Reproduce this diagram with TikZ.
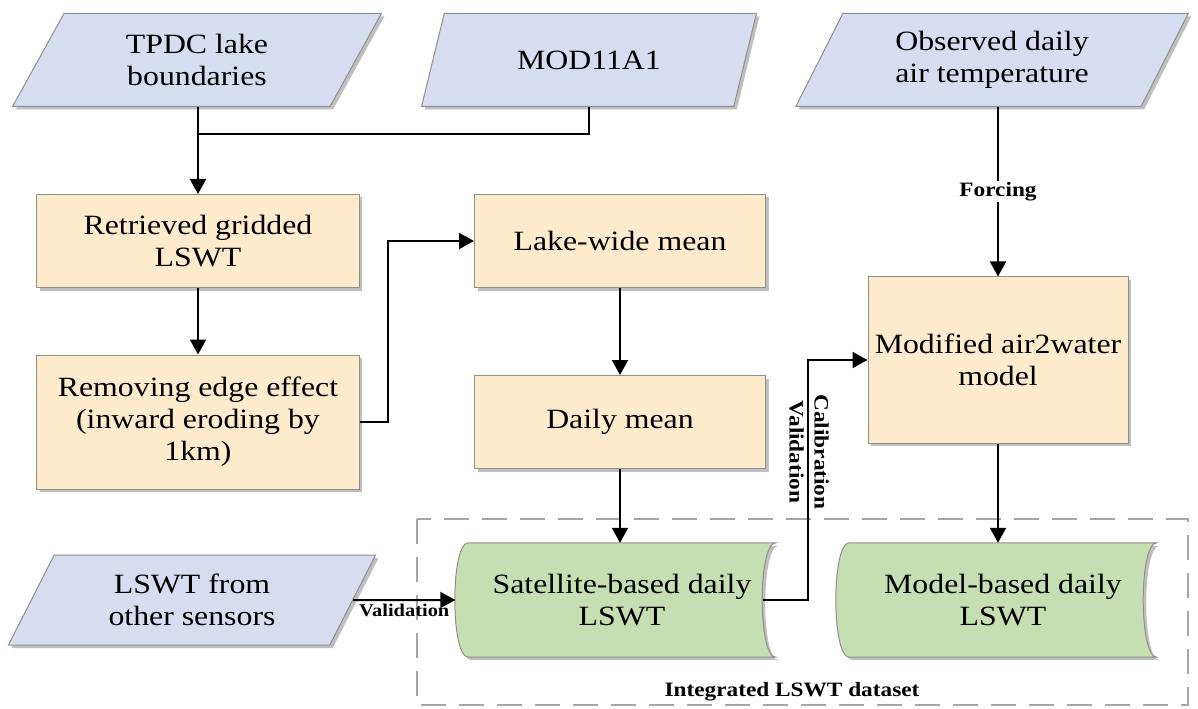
\documentclass[tikz,border=0pt]{standalone}
\usepackage{fontspec}
\setmainfont{Liberation Serif}[FakeStretch=1.14]
\usetikzlibrary{positioning,shapes.geometric,shadows,arrows.meta,backgrounds}

\definecolor{inblue}{HTML}{D7DDF0}
\definecolor{procyel}{HTML}{FDEBCB}
\definecolor{outgreen}{HTML}{C5DFB3}
\definecolor{edgegray}{HTML}{8F8F8F}

\tikzset{
  every node/.style={font=\fontsize{28}{32}\selectfont, align=center, inner sep=2bp},
  boxshadow/.style={drop shadow={shadow xshift=3bp, shadow yshift=-3bp, fill=black, opacity=0.25}},
  input/.style={trapezium, trapezium left angle=63, trapezium right angle=117,
    trapezium stretches=true, draw=edgegray, fill=inblue, line width=1bp,
    minimum height=93bp, boxshadow},
  process/.style={rectangle, draw=edgegray, fill=procyel, line width=1bp,
    minimum width=322bp, minimum height=93bp, boxshadow},
  output/.style={minimum width=307bp, minimum height=114bp},
  tag/.style={font=\bfseries\fontsize{20.5}{25}\selectfont, inner sep=1bp},
  arr/.style={line width=2bp, -{Triangle[length=15bp,width=16bp]}},
  link/.style={line width=2bp},
  group/.style={draw=black!35, line width=2bp, dash pattern=on 25bp off 13bp}
}

\begin{document}
\begin{tikzpicture}[x=1bp,y=-1bp]
\useasboundingbox (0,0) rectangle (1198,709);
% inputs
\node[input, minimum width=370bp] (tpdc) at (197,60) {TPDC lake\\boundaries};
\node[input, minimum width=335bp] (modis) at (589,60) {MOD11A1};
\node[input, minimum width=393bp] (obs) at (992,60) {Observed daily\\air temperature};
\node[input, minimum width=368bp, minimum height=90bp] (other) at (192,600) {LSWT from\\other sensors};
% processing
\node[process] (grid) at (198,241) {Retrieved gridded\\LSWT};
\node[process, minimum height=134bp] (erode) at (198,422) {Removing edge effect\\(inward eroding by\\1km)};
\node[process, minimum width=291bp] (lake) at (620,241) {Lake-wide mean};
\node[process, minimum width=291bp] (daily) at (620,422) {Daily mean};
\node[process, minimum width=260bp, minimum height=166bp] (a2w) at (998,360) {Modified air2water\\model};
% outputs
\node[output] (sat) at (622,600) {Satellite-based daily\\LSWT};
\node[output] (modb) at (1003,600) {Model-based daily\\LSWT};
\node[tag] (intlab) at (792,692) {Integrated LSWT dataset};
\begin{scope}[on background layer]
\draw[group] (417,519) rectangle (1188,705);
\foreach \o in {sat,modb}
  \filldraw[draw=edgegray, fill=outgreen, line width=1bp, boxshadow]
    (\o.north west) -- (\o.north east)
    .. controls ([xshift=-18bp]\o.north east) and ([xshift=-18bp]\o.south east) .. (\o.south east)
    -- (\o.south west)
    .. controls ([xshift=-18bp]\o.south west) and ([xshift=-18bp]\o.north west) .. (\o.north west) -- cycle;
\end{scope}
% connectors
\coordinate (merge) at (198,134);
\draw[link] (modis.south) |- (merge);
\draw[arr] (tpdc.south -| grid.north) -- (grid.north);
\draw[arr] (grid) -- (erode);
\draw[arr] (erode.east) -- ++(28,0) |- (lake.west);
\draw[arr] (lake) -- (daily);
\draw[arr] (daily.south) -- (daily.south |- sat.north);
\draw[arr] (obs.south -| a2w.north) -- node[tag, fill=white] (forc) {Forcing} (a2w.north);
\draw[arr] (a2w.south) -- (a2w.south |- modb.north);
\draw[arr] (other.east) -- node[tag, font=\bfseries\fontsize{18}{22}\selectfont, below=2bp] (valid) {Validation} ([xshift=-13bp]sat.west);
\draw[arr] ([xshift=-13bp]sat.east) -- ++(45,0) |- (a2w.west);
\node[tag, rotate=-90] (calib) at (809,452) {Calibration\\Validation};
\end{tikzpicture}
\end{document}
